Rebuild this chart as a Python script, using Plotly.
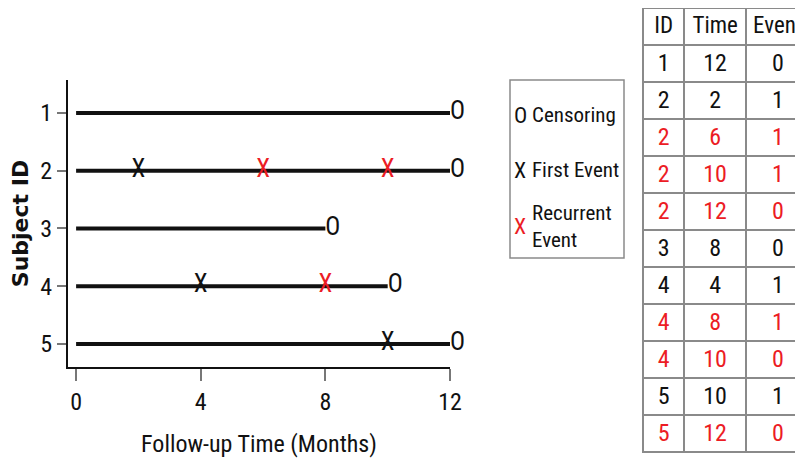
import plotly.graph_objects as go

# ---------------- data ----------------
subjects = [1, 2, 3, 4, 5]
follow_up = [12, 12, 8, 10, 12]

first_event_ids = [2, 4, 5]
first_event_times = [2, 4, 10]

recurrent_ids = [2, 2, 4]
recurrent_times = [6, 10, 8]

x_ticks = [0, 4, 8, 12]

table_id = [1, 2, 2, 2, 2, 3, 4, 4, 4, 5, 5]
table_time = [12, 2, 6, 10, 12, 8, 4, 8, 10, 10, 12]
table_event = [0, 1, 1, 1, 0, 0, 1, 1, 0, 1, 0]
table_header = ["ID", "Time", "Event"]

# ---------------- styles ----------------
FONT = "Roboto Condensed, DejaVu Sans Condensed, Liberation Sans, Arial, sans-serif"
WIDE = "DejaVu Sans, Liberation Sans, Arial, sans-serif"
RED = "#ec1c24"
BLACK = "#111111"
W, H = 803, 461
OFF = 8  # page body margin

def px_x(p):
    return min(1.0, max(0.0, (p - OFF) / W))

def px_y(p):
    return min(1.0, max(0.0, 1 - (p - OFF) / H))

fig = go.Figure()

# follow-up lines
lx, ly = [], []
for s, t in zip(subjects, follow_up):
    lx += [0, t, None]
    ly += [s, s, None]
fig.add_trace(go.Scatter(x=lx, y=ly, mode="lines",
                         line=dict(color=BLACK, width=4),
                         hoverinfo="skip", showlegend=False))

# censoring "O"
fig.add_trace(go.Scatter(x=follow_up, y=subjects, mode="text",
                         text=["O"] * len(subjects), textposition="middle right",
                         textfont=dict(family=FONT, size=25, color=BLACK),
                         showlegend=False, cliponaxis=False))

# first events
fig.add_trace(go.Scatter(x=first_event_times, y=first_event_ids, mode="text",
                         text=["X"] * len(first_event_ids), textposition="middle center",
                         textfont=dict(family=FONT, size=25, color=BLACK),
                         showlegend=False, cliponaxis=False))

# recurrent events
fig.add_trace(go.Scatter(x=recurrent_times, y=recurrent_ids, mode="text",
                         text=["X"] * len(recurrent_ids), textposition="middle center",
                         textfont=dict(family=FONT, size=25, color=RED),
                         showlegend=False, cliponaxis=False))

# table
seen = set()
row_colors = []
for i in table_id:
    row_colors.append(BLACK if i not in seen else RED)
    seen.add(i)

fig.add_trace(go.Table(
    domain=dict(x=[px_x(643), 1.0], y=[0.0, 1.0]),
    columnwidth=[40, 59, 62],
    header=dict(values=table_header, height=37,
                align="center",
                line=dict(color="#8a8a8a", width=2),
                fill=dict(color="white"),
                font=dict(family=FONT, size=23, color=BLACK)),
    cells=dict(values=[table_id, table_time, table_event], height=37,
               align="center",
               line=dict(color="#8a8a8a", width=2),
               fill=dict(color="white"),
               font=dict(family=FONT, size=24,
                         color=[row_colors, row_colors, row_colors])),
))

# legend box
fig.add_shape(type="rect", xref="paper", yref="paper",
              x0=px_x(510), x1=px_x(624), y0=px_y(258), y1=px_y(80),
              line=dict(color="#8a8a8a", width=1.5), fillcolor="white", layer="below")

legend_items = [
    ("O", BLACK, "Censoring", 115),
    ("X", BLACK, "First Event", 170),
    ("X", RED, "Recurrent<br>Event", 226),
]
for sym, col, label, yc in legend_items:
    fig.add_annotation(xref="paper", yref="paper", x=px_x(520), y=px_y(yc),
                       text=sym, showarrow=False, xanchor="center", yanchor="middle",
                       font=dict(family=FONT, size=22, color=col))
    fig.add_annotation(xref="paper", yref="paper", x=px_x(530), y=px_y(yc),
                       text=label, showarrow=False, xanchor="left", yanchor="middle",
                       align="left",
                       font=dict(family=FONT, size=21, color=BLACK))

fig.update_layout(
    width=W, height=H,
    margin=dict(l=0, r=0, t=0, b=0),
    paper_bgcolor="white", plot_bgcolor="white",
    font=dict(family=FONT, size=23, color=BLACK),
    showlegend=False,
    xaxis=dict(domain=[px_x(68), px_x(450)], range=[-0.26, 12],
               automargin=False,
               tickmode="array", tickvals=x_ticks,
               showline=True, linecolor=BLACK, linewidth=2,
               ticks="outside", ticklen=12, tickwidth=1.5, tickcolor="#777777",
               showgrid=False, zeroline=False,
               tickfont=dict(family=FONT, size=24, color=BLACK),
               title=dict(text="Follow-up Time (Months)", standoff=20,
                          font=dict(family=FONT, size=24, color=BLACK))),
    yaxis=dict(domain=[px_y(367), px_y(80)], range=[5.4, 0.43],
               automargin=False,
               tickmode="array", tickvals=subjects,
               showline=True, linecolor=BLACK, linewidth=2,
               ticks="outside", ticklen=9, tickwidth=1.5, tickcolor="#777777",
               showgrid=False, zeroline=False,
               tickfont=dict(family=FONT, size=24, color=BLACK),
               title=dict(text="<b>Subject ID</b>", standoff=8,
                          font=dict(family=WIDE, size=22, color=BLACK))),
)

fig.write_html("out.html")
